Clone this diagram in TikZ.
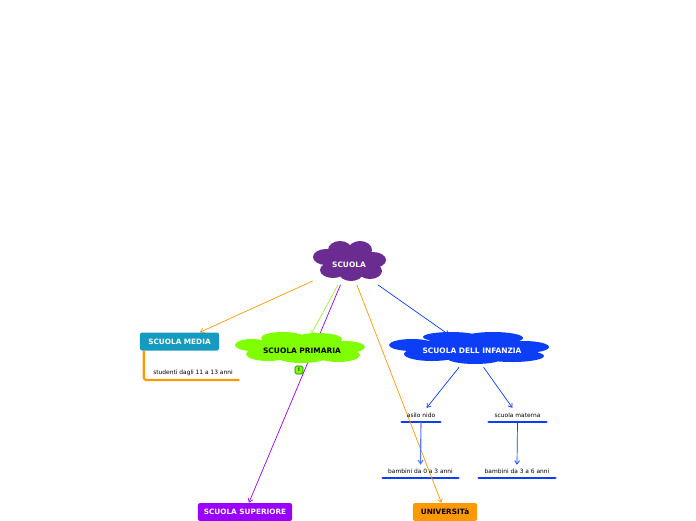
\documentclass[tikz,border=0pt]{standalone}
\usepackage{fontspec}
\setmainfont{DejaVu Sans}
\usetikzlibrary{arrows.meta,calc}
\definecolor{mmPurple}{RGB}{106,44,145}
\definecolor{mmTeal}{RGB}{22,155,192}
\definecolor{mmLime}{RGB}{128,255,0}
\definecolor{mmBlue}{RGB}{12,62,248}
\definecolor{mmViolet}{RGB}{153,0,255}
\definecolor{mmOrange}{RGB}{255,153,0}
\definecolor{mmGreen}{RGB}{160,240,60}
\pgfdeclarelayer{bg}
\pgfsetlayers{bg,main}

\begin{document}
\begin{tikzpicture}[x=0.025cm, y=-0.025cm, >={Straight Barb[length=2.5pt,width=3.5pt]},
  testo/.style={rectangle, inner sep=0pt, font=\bfseries\fontsize{5.3}{6}\selectfont},
  ramo/.style={rectangle, rounded corners=1.5pt, inner sep=0pt, minimum height=0.45cm, font=\bfseries\fontsize{5.2}{6}\selectfont},
  foglia/.style={inner sep=0pt, minimum height=0.34cm, font=\fontsize{4.2}{5}\selectfont},
  sotto/.style={line width=2pt, mmBlue, line cap=round},
  linea/.style={->, line width=0.5pt}]
% 画布：696 x 520 像素
\useasboundingbox (0,0) rectangle (696,520);
\clip (0,0) rectangle (696,520);
% 云朵（椭圆拼成）
\fill[mmPurple] (349,262) ellipse (24 and 13) (340,250) ellipse (12 and 9) (360,250) ellipse (12 and 9)
  (326,257) ellipse (13 and 8) (373,260) ellipse (13 and 8) (333,270) ellipse (13 and 8)
  (351,273) ellipse (12 and 8) (370,271) ellipse (12 and 8);
\fill[mmLime] (300,348) ellipse (48 and 10) (283,338) ellipse (22 and 6) (318,339) ellipse (24 and 6)
  (252,345) ellipse (17 and 6) (345,347) ellipse (20 and 6) (268,354) ellipse (22 and 7)
  (302,357) ellipse (25 and 6) (338,355) ellipse (22 and 7);
\fill[mmBlue] (470,348) ellipse (60 and 10) (451,337) ellipse (28 and 5) (493,338) ellipse (30 and 6)
  (412,345) ellipse (23 and 6) (524,347) ellipse (25 and 6) (432,354) ellipse (28 and 7)
  (475,358) ellipse (28 and 6) (512,356) ellipse (32 and 6);
% 主题节点
\node[testo, text=white, minimum width=1.8cm, minimum height=1.0cm] (scuola) at (349,264.5) {SCUOLA};
\node[ramo, fill=mmTeal, text=white, minimum width=1.975cm] (media) at (179.5,341.5) {SCUOLA MEDIA};
\node[testo, text=black, minimum width=3.0cm, minimum height=0.8cm] (primaria) at (302,351) {SCUOLA PRIMARIA};
\node[testo, text=white, minimum width=3.6cm, minimum height=0.8cm] (infanzia) at (472,351) {SCUOLA DELL INFANZIA};
\node[ramo, fill=mmViolet, text=white, minimum width=2.35cm] (superiore) at (245,512) {SCUOLA SUPERIORE};
\node[ramo, fill=mmOrange, text=black, minimum width=1.6cm] (universita) at (445,512) {UNIVERSITà};
% 备注标记
\node[rectangle, rounded corners=1pt, fill=mmLime, draw=green!50!black, line width=0.4pt, minimum size=0.2cm, inner sep=0pt, font=\bfseries\fontsize{3.5}{4}\selectfont] (nota) at (299,370) {!};
% 叶子节点（带下划线）
\node[foglia, minimum width=2.3cm, minimum height=0.36cm, anchor=south] (studenti) at (193,380) {studenti dagli 11 a 13 anni};
\node[foglia, minimum width=0.95cm, anchor=south] (asilo) at (421,422) {asilo nido};
\node[foglia, minimum width=1.425cm, anchor=south] (materna) at (517.5,422) {scuola materna};
\node[foglia, minimum width=1.875cm, minimum height=0.32cm, anchor=south] (bambiniA) at (420.5,478) {bambini da 0 a 3 anni};
\node[foglia, minimum width=1.9cm, minimum height=0.32cm, anchor=south] (bambiniB) at (517,478) {bambini da 3 a 6 anni};
% 连线（放在底层）
\begin{pgfonlayer}{bg}
\fill[white] (0,0) rectangle (696,520);
\draw[sotto] (asilo.south west) -- (asilo.south east);
\draw[sotto] (materna.south west) -- (materna.south east);
\draw[sotto] (bambiniA.south west) -- (bambiniA.south east);
\draw[sotto] (bambiniB.south west) -- (bambiniB.south east);
\draw[mmOrange, line width=1.6pt, rounded corners=2pt] ($(media.south west)+(4,0)$) |- (studenti.south east);
\draw[linea, mmOrange] (scuola) -- (media);
\draw[linea, mmGreen] (scuola) -- (primaria);
\draw[linea, mmViolet] (scuola) -- (superiore);
\draw[linea, mmOrange] (scuola) -- (universita);
\draw[linea, mmBlue] (scuola) -- (infanzia);
\draw[linea, mmBlue] (infanzia) -- (asilo);
\draw[linea, mmBlue] (infanzia) -- (materna);
\draw[linea, mmBlue!70, line width=0.8pt] (asilo.south) -- (bambiniA.north);
\draw[linea, mmBlue] (materna.south) -- (bambiniB.north);
\end{pgfonlayer}
\end{tikzpicture}
\end{document}
